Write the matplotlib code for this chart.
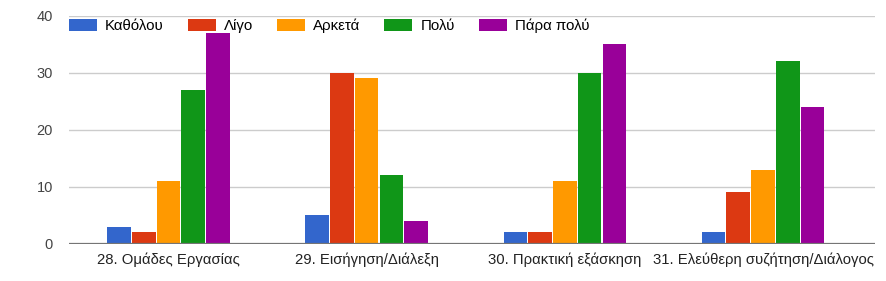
import matplotlib.pyplot as plt
import numpy as np

plt.rcParams['font.family'] = ['Liberation Sans', 'DejaVu Sans']

categories = ["28. Ομάδες Εργασίας", "29. Εισήγηση/Διάλεξη",
              "30. Πρακτική εξάσκηση", "31. Ελεύθερη συζήτηση/Διάλογος"]
series_names = ["Καθόλου", "Λίγο", "Αρκετά", "Πολύ", "Πάρα πολύ"]
katholou = [3, 5, 2, 2]
ligo = [2, 30, 2, 9]
arketa = [11, 29, 11, 13]
poly = [27, 12, 30, 32]
para_poly = [37, 4, 35, 24]
y_ticks = [0, 10, 20, 30, 40]

colors = ["#3366cc", "#dc3912", "#ff9900", "#109618", "#990099"]
series = [katholou, ligo, arketa, poly, para_poly]

fig = plt.figure(figsize=(8.86, 2.81), dpi=100)
ax = fig.add_axes([69 / 886, 1 - 243.7 / 281, (875 - 69) / 886, 228 / 281])

x = np.arange(len(categories))
step = 0.1249
width = 0.119
for i, (name, vals, color) in enumerate(zip(series_names, series, colors)):
    ax.bar(x + (i - 2) * step, vals, width=width, color=color, label=name, zorder=2)

ax.set_xlim(-0.502, 3.565)
ax.set_ylim(0, 40)
ax.set_yticks(y_ticks)
ax.set_xticks(x)
ax.set_xticklabels(categories, fontsize=10.7, color="#222222")
ax.tick_params(axis="y", length=0, pad=11.5, labelsize=10.5, labelcolor="#444444")
ax.tick_params(axis="x", length=0, pad=6)
ax.grid(axis="y", color="#cccccc", linewidth=1, zorder=0)
ax.axhline(0, color="#757575", linewidth=1.6, zorder=3)
for s in ax.spines.values():
    s.set_visible(False)

ax.legend(loc="upper left", bbox_to_anchor=(69 / 886, 1 - 18.5 / 281),
          bbox_transform=fig.transFigure, ncol=5, frameon=False,
          fontsize=10.8, handlelength=1.87, handleheight=0.87,
          handletextpad=0.53, columnspacing=1.6, borderpad=0,
          borderaxespad=0)

fig.savefig("out.png", dpi=100)
